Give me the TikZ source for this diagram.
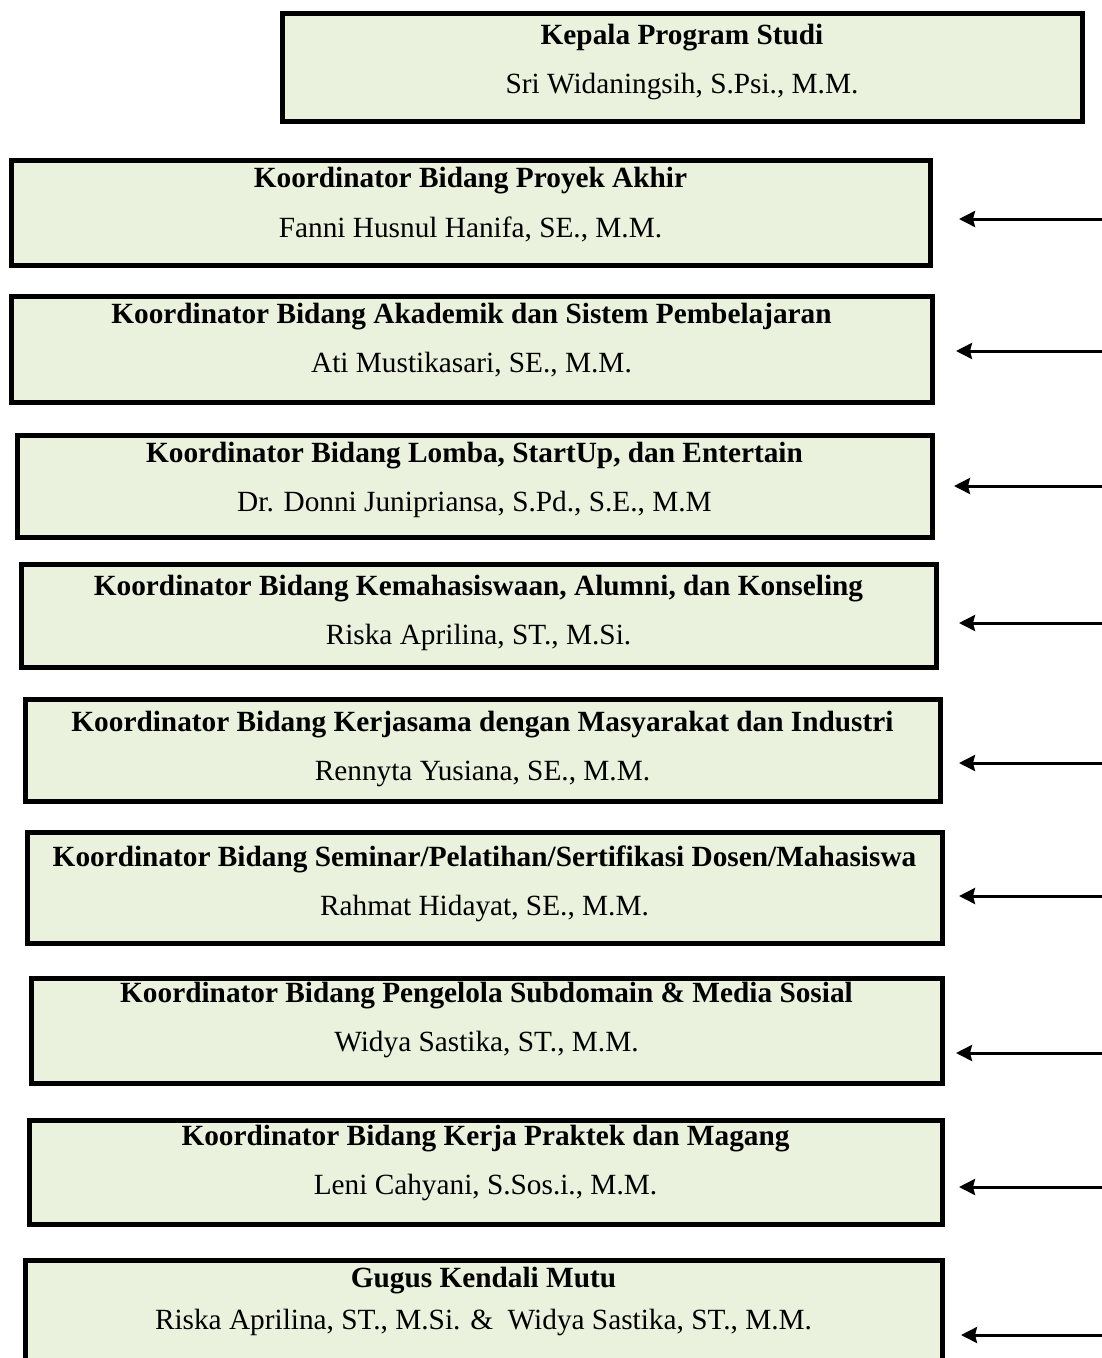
\documentclass[tikz,border=0pt]{standalone}
\usepackage{fontspec}
\setmainfont{Liberation Serif}
\usepackage{tikz}
\usepackage{xcolor}
\usetikzlibrary{arrows.meta,positioning}

\definecolor{hijaumuda}{HTML}{EAF1DD}

\begin{document}
\begin{tikzpicture}[x=1pt, y=-1pt, line join=miter,
  kotak/.style={draw=black, line width=5pt, fill=hijaumuda, anchor=north west, inner sep=0pt},
  teks/.style={inner sep=0pt, align=center, font=\fontsize{29.3}{49.5}\selectfont},
  panah/.style={line width=3pt, -{Stealth[length=16pt, width=16pt, inset=2pt]}}]
\clip (0,0) rectangle (1102,1358);

% Kotak-kotak struktur
\node[kotak, minimum width=800pt, minimum height=108pt] (k0) at (279.5,10.5) {};
\node[kotak, minimum width=919pt, minimum height=105pt] (k1) at (8.5,157.5) {};
\node[kotak, minimum width=921pt, minimum height=106pt] (k2) at (8.5,293.5) {};
\node[kotak, minimum width=915pt, minimum height=102pt] (k3) at (14.5,432.5) {};
\node[kotak, minimum width=915pt, minimum height=103pt] (k4) at (18.5,561.5) {};
\node[kotak, minimum width=915pt, minimum height=102pt] (k5) at (22.5,696.5) {};
\node[kotak, minimum width=915pt, minimum height=111pt] (k6) at (24.5,829.5) {};
\node[kotak, minimum width=911pt, minimum height=105pt] (k7) at (28.5,975.5) {};
\node[kotak, minimum width=913pt, minimum height=104pt] (k8) at (26.5,1117.5) {};
\node[kotak, minimum width=917pt, minimum height=140pt] (k9) at (22.5,1257.5) {};

% Teks di dalam kotak
\node[teks, below=13pt of k0.north] (t0) {\textbf{Kepala Program Studi}\\Sri Widaningsih, S.Psi., M.M.};
\node[teks, below=9.5pt of k1.north] (t1) {\textbf{Koordinator Bidang Proyek Akhir}\\Fanni Husnul Hanifa, SE., M.M.};
\node[teks, below=9pt of k2.north] (t2) {\textbf{Koordinator Bidang Akademik dan Sistem Pembelajaran}\\Ati Mustikasari, SE., M.M.};
\node[teks, below=9pt of k3.north] (t3) {\textbf{Koordinator Bidang Lomba, StartUp, dan Entertain}\\Dr. Donni Junipriansa, S.Pd., S.E., M.M};
\node[teks, below=13pt of k4.north] (t4) {\textbf{Koordinator Bidang Kemahasiswaan, Alumni, dan Konseling}\\Riska Aprilina, ST., M.Si.};
\node[teks, below=14pt of k5.north] (t5) {\textbf{Koordinator Bidang Kerjasama dengan Masyarakat dan Industri}\\Rennyta Yusiana, SE., M.M.};
\node[teks, below=16pt of k6.north] (t6) {\textbf{Koordinator Bidang Seminar/Pelatihan/Sertifikasi Dosen/Mahasiswa}\\Rahmat Hidayat, SE., M.M.};
\node[teks, below=6pt of k7.north] (t7) {\textbf{Koordinator Bidang Pengelola Subdomain \& Media Sosial}\\Widya Sastika, ST., M.M.};
\node[teks, below=7pt of k8.north] (t8) {\textbf{Koordinator Bidang Kerja Praktek dan Magang}\\Leni Cahyani, S.Sos.i., M.M.};
\node[teks, font=\fontsize{29.3}{42}\selectfont, below=9pt of k9.north] (t9) {\textbf{Gugus Kendali Mutu}\\Riska Aprilina, ST., M.Si. \&~~Widya Sastika, ST., M.M.};

% Panah dari kanan
\coordinate (a1) at (1102,219);  \coordinate (b1) at (959,219);
\coordinate (a2) at (1102,351);  \coordinate (b2) at (956,351);
\coordinate (a3) at (1102,486);  \coordinate (b3) at (954,486);
\coordinate (a4) at (1102,623);  \coordinate (b4) at (959,623);
\coordinate (a5) at (1102,763);  \coordinate (b5) at (959,763);
\coordinate (a6) at (1102,896);  \coordinate (b6) at (959,896);
\coordinate (a7) at (1102,1053); \coordinate (b7) at (956,1053);
\coordinate (a8) at (1102,1187); \coordinate (b8) at (959,1187);
\coordinate (a9) at (1102,1335); \coordinate (b9) at (961,1335);
\draw[panah] (a1) -- (b1);
\draw[panah] (a2) -- (b2);
\draw[panah] (a3) -- (b3);
\draw[panah] (a4) -- (b4);
\draw[panah] (a5) -- (b5);
\draw[panah] (a6) -- (b6);
\draw[panah] (a7) -- (b7);
\draw[panah] (a8) -- (b8);
\draw[panah] (a9) -- (b9);

\end{tikzpicture}
\end{document}
